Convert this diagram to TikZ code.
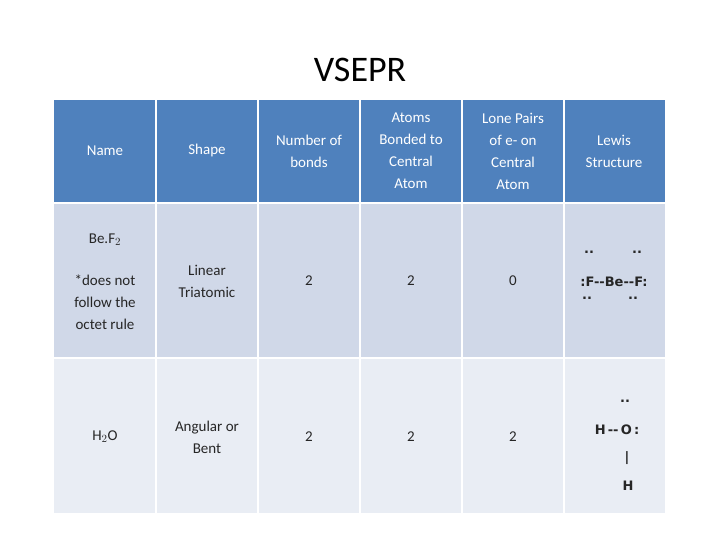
\documentclass[tikz,border=0pt]{standalone}
\usepackage{fontspec}
\setmainfont{Carlito}
\newfontfamily\lew{DejaVu Sans}
\begin{document}
\begin{tikzpicture}[x=1pt,y=-1pt,
 hd/.style={align=center,text=white,font=\fontsize{15}{22}\selectfont},
 cl/.style={align=center,text=black!85,font=\fontsize{15}{22}\selectfont},
 lw/.style={font=\lew\bfseries\fontsize{13}{15}\selectfont,text=black!85}]
\useasboundingbox (0,0) rectangle (720,540);
\node (title) at (360,70) {\fontsize{36}{40}\selectfont VSEPR};
\fill[fill={rgb,255:red,79;green,129;blue,189}] (54,100) rectangle (665,203);
\fill[fill={rgb,255:red,208;green,216;blue,232}] (54,203) rectangle (665,358);
\fill[fill={rgb,255:red,233;green,237;blue,244}] (54,358) rectangle (665,513);
\foreach \x in {156,258,360,462,564}{\draw[white,line width=1.5] (\x,100)--(\x,513);}
\draw[white,line width=1.5] (54,203)--(665,203);
\draw[white,line width=1.5] (54,358)--(665,358);
\node[hd] (h1) at (105,151) {Name};
\node[hd] (h2) at (207,151) {Shape};
\node[hd] (h3) at (309,151) {Number of\\bonds};
\node[hd] (h4) at (411,151) {Atoms\\Bonded to\\Central\\Atom};
\node[hd] (h5) at (513,151) {Lone Pairs\\of e- on\\Central\\Atom};
\node[hd] (h6) at (614,151) {Lewis\\Structure};
\node[cl] (a1) at (105,240) {Be.F$_2$};
\node[cl] (a1b) at (105,302) {*does not\\follow the\\octet rule};
\node[cl] (a2) at (207,281) {Linear\\Triatomic};
\node[cl] (a3) at (309,281) {2};
\node[cl] (a4) at (411,281) {2};
\node[cl] (a5) at (513,281) {0};
\node[lw] (l1) at (614,282) {:F--Be--F:};
\node[lw] (d1) at (589,252) {..};
\node[lw] (d2) at (637,252) {..};
\node[lw] (d3) at (587,298) {..};
\node[lw] (d4) at (633,298) {..};
\node[cl] (b1) at (105,437) {H$_2$O};
\node[cl] (b2) at (207,437) {Angular or\\Bent};
\node[cl] (b3) at (309,437) {2};
\node[cl] (b4) at (411,437) {2};
\node[cl] (b5) at (513,437) {2};
\node[lw] (o1) at (625,401) {..};
\node[lw] (o2) at (617,430) {H\,--\,O\,:};
\node[lw] (o3) at (627,458) {|};
\node[lw] (o4) at (628,486) {H};
\end{tikzpicture}
\end{document}
